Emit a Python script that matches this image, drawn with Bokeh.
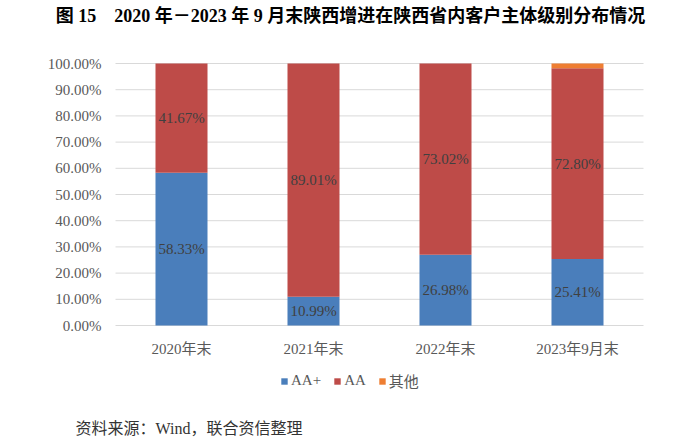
from bokeh.plotting import figure
from bokeh.models import (ColumnDataSource, Range1d, FixedTicker,
                          PrintfTickFormatter, Legend, LegendItem, Label)
from bokeh.core.properties import value
from bokeh.embed import file_html
from bokeh.resources import INLINE

categories = ["2020年末", "2021年末", "2022年末", "2023年9月末"]
aa_plus = [58.33, 10.99, 26.98, 25.41]
aa = [41.67, 89.01, 73.02, 72.80]
other = [0.0, 0.0, 0.0, 1.79]
series = ["AA+", "AA", "其他"]
colors = ["#4A7EBB", "#BE4B48", "#EE7E32"]
y_ticks = [0, 10, 20, 30, 40, 50, 60, 70, 80, 90, 100]

title_text = "图 15　2020 年－2023 年 9 月末陕西增进在陕西省内客户主体级别分布情况"
source_text = "资料来源：Wind，联合资信整理"

SERIF = "'Liberation Serif', 'Noto Sans CJK SC'"

W, H = 700, 440
# frame covers the whole canvas; pixel layout of the plotting area
PLOT_LEFT, PLOT_RIGHT, PLOT_TOP, PLOT_BOTTOM = 115, 643, 63, 325
n = len(categories)
step = (PLOT_RIGHT - PLOT_LEFT) / n
first_center = PLOT_LEFT + step / 2
x_start = -first_center / step
x_end = (W - first_center) / step
ppu = (PLOT_BOTTOM - PLOT_TOP) / 100.0
y_start = -(H - PLOT_BOTTOM) / ppu
y_end = 100 + PLOT_TOP / ppu

xs = list(range(n))
src = ColumnDataSource(data={
    "x": xs,
    "AA+": aa_plus,
    "AA": aa,
    "其他": other,
    "mid1": [v / 2 for v in aa_plus],
    "mid2": [a + b / 2 for a, b in zip(aa_plus, aa)],
    "lab1": [f"{v:.2f}%" for v in aa_plus],
    "lab2": [f"{v:.2f}%" for v in aa],
})

p = figure(width=W, height=H, x_range=Range1d(x_start, x_end),
           y_range=Range1d(y_start, y_end), output_backend="svg",
           toolbar_location=None, min_border=0)
p.outline_line_color = None
p.background_fill_color = "white"
p.border_fill_color = "white"
p.xgrid.visible = False
p.ygrid.visible = False

# horizontal gridlines across the category area
p.segment(x0=[-0.5] * len(y_ticks), x1=[n - 0.5] * len(y_ticks), y0=y_ticks, y1=y_ticks,
          line_color="#D9D9D9", line_width=1)

renderers = p.vbar_stack(series, x="x", width=0.394, source=src, color=colors,
                         line_color=None)

p.text(x="x", y="mid1", text="lab1", source=src, text_align="center",
       text_baseline="middle", text_font=value(SERIF), text_font_size="15px",
       text_color="#404040")
p.text(x="x", y="mid2", text="lab2", source=src, text_align="center",
       text_baseline="middle", text_font=value(SERIF), text_font_size="15px",
       text_color="#404040")

p.yaxis.ticker = FixedTicker(ticks=y_ticks)
p.yaxis.formatter = PrintfTickFormatter(format="%.2f%%")
p.yaxis.fixed_location = -0.5
p.xaxis.ticker = FixedTicker(ticks=xs)
p.xaxis.major_label_overrides = {i: c for i, c in zip(xs, categories)}
p.xaxis.fixed_location = 0
for ax in (p.xaxis[0], p.yaxis[0]):
    ax.axis_line_color = None
    ax.major_tick_line_color = None
    ax.minor_tick_line_color = None
    ax.major_tick_out = 0
    ax.major_tick_in = 0
    ax.minor_tick_out = 0
    ax.major_label_text_font = SERIF
    ax.major_label_text_font_size = "15px"
    ax.major_label_text_color = "#595959"
p.yaxis.major_label_standoff = 14
p.xaxis.major_label_standoff = 15

legend = Legend(items=[LegendItem(label=s, renderers=[r]) for s, r in zip(series, renderers)],
                orientation="horizontal", location=(280, 49),
                glyph_width=8, glyph_height=8, label_height=15, label_standoff=3,
                spacing=12, padding=0, margin=0, border_line_color=None,
                background_fill_alpha=0, label_text_font=SERIF,
                label_text_font_size="15px", label_text_color="#595959")
p.add_layout(legend, "center")

p.add_layout(Label(x=350, y=H - 15, x_units="screen", y_units="screen", text=title_text,
                   text_align="center", text_baseline="middle", text_font=SERIF,
                   text_font_style="bold", text_font_size="18px", text_color="#000000"))
p.add_layout(Label(x=75, y=H - 428, x_units="screen", y_units="screen", text=source_text,
                   text_align="left", text_baseline="middle", text_font=SERIF,
                   text_font_size="16px", text_color="#333333"))

open("out.html", "w").write(file_html(p, INLINE))
